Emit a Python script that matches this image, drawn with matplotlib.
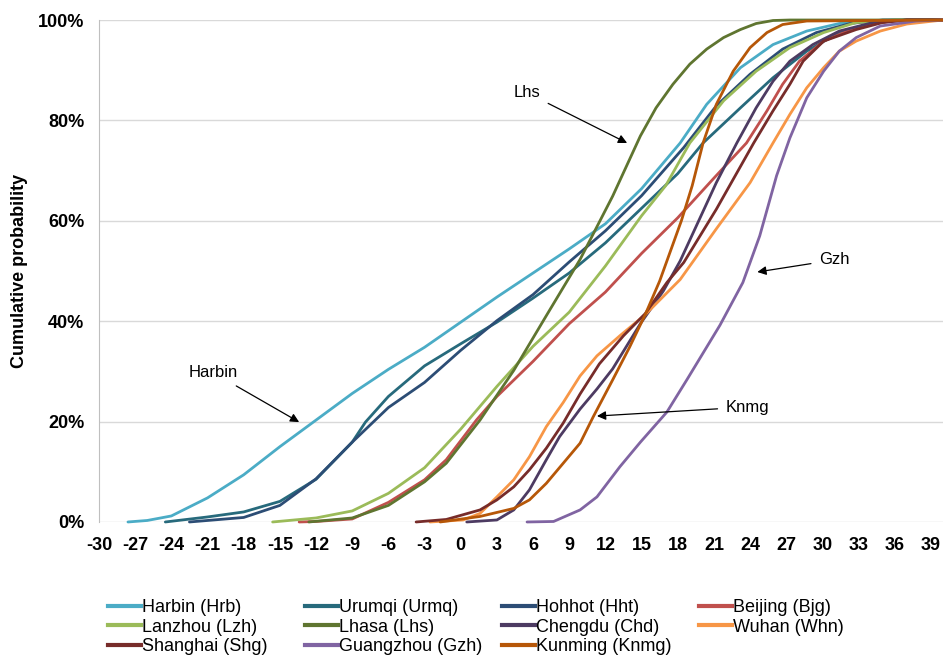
import matplotlib
matplotlib.use("Agg")
import matplotlib.pyplot as plt
from matplotlib.lines import Line2D
from matplotlib.ticker import PercentFormatter

plt.rcParams['font.family'] = ['Liberation Sans', 'DejaVu Sans']
plt.rcParams['axes.unicode_minus'] = False

# cumulative probability (%) of daily temperature (deg C) per city
harbin_t = [-27.6, -26, -24, -21, -18, -15, -12, -9, -6, -3, 0, 3, 6, 9, 12, 15, 18.2, 20.4, 23.2, 25.9, 28.7, 31.4, 34, 36, 40]
harbin_p = [0, 0.3, 1.2, 4.8, 9.4, 15.0, 20.3, 25.6, 30.4, 34.8, 39.8, 44.8, 49.6, 54.4, 59.4, 66.4, 75.5, 83.2, 90.5, 95.1, 97.8, 99.3, 99.9, 100, 100]

urumqi_t = [-24.5, -21, -18, -15, -12, -9, -7.9, -6, -3, 0, 3, 6, 9, 12, 15, 18, 20.1, 23.2, 25.9, 28.7, 31.4, 33.7, 36, 40]
urumqi_p = [0, 1.0, 2.0, 4.1, 8.5, 15.9, 19.9, 25.0, 31.1, 35.5, 39.8, 44.6, 49.6, 55.6, 62.5, 69.4, 75.5, 82.5, 88.5, 93.8, 97.5, 99.1, 99.9, 100]

hohhot_t = [-22.5, -21, -18, -15, -12, -9, -6, -3, 0, 3, 6, 9, 12, 15, 18.5, 21.2, 24, 26.7, 29.5, 32.3, 35, 40]
hohhot_p = [0, 0.3, 0.9, 3.3, 8.6, 15.9, 22.8, 27.8, 34.2, 40.1, 45.3, 51.8, 58.0, 65.0, 74.6, 82.9, 89.2, 94.2, 97.5, 99.3, 100, 100]

beijing_t = [-13.4, -12, -9, -6, -3, -1.2, 1.3, 3, 6, 9, 12, 15, 18, 21, 23.7, 25.4, 26.7, 28.1, 30.1, 32.8, 34.8, 37, 40]
beijing_p = [0, 0.1, 0.6, 3.9, 8.4, 12.4, 20.3, 25.0, 32.0, 39.5, 45.8, 53.5, 60.6, 68.5, 75.5, 81.9, 87.2, 91.8, 95.8, 98.5, 99.5, 100, 100]

lanzhou_t = [-15.6, -12, -9, -6, -3, 0, 3, 6, 9, 12, 15, 17, 19.0, 21.8, 24.5, 27.3, 30.1, 32.8, 36, 40]
lanzhou_p = [0, 0.8, 2.2, 5.7, 10.8, 18.5, 27.0, 35.0, 41.8, 51.0, 61.0, 67.0, 75.5, 83.9, 89.8, 94.5, 97.5, 99.5, 100, 100]

lhasa_t = [-12.6, -9, -6, -3, -1.2, 1.6, 4.4, 7.1, 9.9, 12.6, 14.9, 16.2, 17.6, 19.0, 20.4, 21.8, 23.2, 24.5, 25.9, 27.3, 40]
lhasa_p = [0, 0.8, 3.3, 8.0, 11.7, 20.3, 30.2, 41.1, 52.3, 64.9, 76.9, 82.5, 87.2, 91.2, 94.2, 96.5, 98.1, 99.3, 99.9, 100, 100]

chengdu_t = [0.5, 3, 4.4, 5.7, 7.1, 8.2, 9.9, 11.3, 12.6, 14.9, 16.8, 18.2, 21.2, 22.9, 24.5, 25.9, 27.3, 29.2, 31.4, 34.2, 37, 40]
chengdu_p = [0, 0.4, 2.4, 6.4, 12.4, 17.0, 22.5, 26.5, 30.5, 39.5, 46.0, 52.0, 67.6, 75.5, 82.5, 87.8, 91.8, 95.1, 97.8, 99.5, 100, 100]

wuhan_t = [-2.55, 0.2, 1.6, 3.0, 4.4, 5.7, 7.1, 8.5, 9.9, 11.3, 13.2, 15.3, 18.2, 21.2, 24, 25.9, 27.3, 28.7, 30.1, 31.4, 32.8, 34.8, 37, 40]
wuhan_p = [0, 0.4, 1.7, 5.0, 8.4, 13.0, 19.0, 23.8, 29.1, 33.1, 37.1, 41.3, 48.3, 58.4, 67.6, 75.5, 81.2, 86.5, 90.5, 93.8, 95.8, 97.8, 99.2, 100]

shanghai_t = [-3.7, -1.2, 1.6, 3.0, 4.4, 5.7, 7.1, 8.5, 9.9, 11.5, 13.5, 15.3, 17.1, 18.5, 21.2, 24.3, 25.9, 27.3, 28.4, 30.1, 32.8, 35, 37, 40]
shanghai_p = [0, 0.5, 2.4, 4.4, 7.0, 10.4, 14.7, 19.7, 25.5, 31.5, 37.1, 41.5, 47.7, 51.7, 62.3, 75.5, 81.9, 87.2, 91.8, 95.8, 98.1, 99.5, 100, 100]

guangzhou_t = [5.5, 7.7, 9.9, 11.3, 13.2, 14.9, 17.1, 18.8, 21.5, 23.4, 24.8, 26.2, 27.3, 28.7, 30.1, 31.4, 32.8, 34.8, 37.8, 40]
guangzhou_p = [0, 0.1, 2.4, 5.0, 11.0, 15.9, 21.9, 28.5, 39.2, 47.7, 57.0, 69.0, 76.5, 84.5, 89.8, 93.8, 96.5, 98.8, 99.8, 100]

kunming_t = [-1.7, 1.6, 4.4, 5.7, 7.1, 8.5, 9.9, 11.0, 12.6, 14.0, 15.3, 16.5, 17.4, 18.3, 19.2, 20.1, 21.2, 22.6, 24.0, 25.4, 26.7, 28.7, 40]
kunming_p = [0, 1.1, 2.7, 4.4, 7.7, 11.7, 15.7, 21.0, 28.3, 34.8, 41.3, 48.0, 54.0, 60.0, 67.0, 75.5, 83.2, 89.8, 94.5, 97.5, 99.1, 99.8, 100]

series = [
    ("Harbin (Hrb)", harbin_t, harbin_p, "#4BACC6"),
    ("Urumqi (Urmq)", urumqi_t, urumqi_p, "#276A7C"),
    ("Hohhot (Hht)", hohhot_t, hohhot_p, "#2C4D75"),
    ("Beijing (Bjg)", beijing_t, beijing_p, "#C0504D"),
    ("Lanzhou (Lzh)", lanzhou_t, lanzhou_p, "#9BBB59"),
    ("Lhasa (Lhs)", lhasa_t, lhasa_p, "#5F7530"),
    ("Chengdu (Chd)", chengdu_t, chengdu_p, "#4D3B62"),
    ("Wuhan (Whn)", wuhan_t, wuhan_p, "#F79646"),
    ("Shanghai (Shg)", shanghai_t, shanghai_p, "#772C2A"),
    ("Guangzhou (Gzh)", guangzhou_t, guangzhou_p, "#8064A2"),
    ("Kunming (Knmg)", kunming_t, kunming_p, "#B65708"),
]

fig = plt.figure(figsize=(9.43, 6.56), dpi=100)
ax = fig.add_axes([0.105, 0.2043, 0.895, 0.7652])

handles = {}
for name, t, p, color in series:
    line, = ax.plot(t, p, color=color, lw=2.0, solid_capstyle='round',
                    solid_joinstyle='round', clip_on=False)
    handles[name] = line

ax.set_xlim(-30, 40)
ax.set_ylim(0, 100)
ax.set_xticks(range(-30, 40, 3))
ax.set_yticks(range(0, 101, 20))
ax.yaxis.set_major_formatter(PercentFormatter(decimals=0))
ax.tick_params(length=0, labelsize=13)
ax.tick_params(axis='x', pad=11)
ax.tick_params(axis='y', pad=10.5)
for lab in ax.get_xticklabels() + ax.get_yticklabels():
    lab.set_fontweight('bold')

ax.grid(axis='y', color='#D9D9D9', lw=1)
ax.set_axisbelow(True)
for side in ['top', 'right', 'bottom']:
    ax.spines[side].set_visible(False)
ax.spines['left'].set_color('#BFBFBF')

ax.set_ylabel("Cumulative probability", fontsize=13, fontweight='bold', labelpad=7)

# city call-outs
arrow = dict(arrowstyle='-|>', color='black', lw=0.9, mutation_scale=13, shrinkA=4, shrinkB=0)
ax.annotate("Harbin", xy=(-13.4, 19.9), xytext=(-20.5, 29.7), fontsize=12,
            ha='center', va='center', arrowprops=arrow)
ax.annotate("Lhs", xy=(13.8, 75.5), xytext=(5.5, 85.5), fontsize=12,
            ha='center', va='center', arrowprops=arrow)
ax.annotate("Gzh", xy=(24.6, 49.8), xytext=(31.0, 52.2), fontsize=12,
            ha='center', va='center', arrowprops=arrow)
ax.annotate("Knmg", xy=(11.3, 21.1), xytext=(23.8, 22.9), fontsize=12,
            ha='center', va='center', arrowprops=arrow)

# legend laid out as four fixed columns
columns = [
    ["Harbin (Hrb)", "Lanzhou (Lzh)", "Shanghai (Shg)"],
    ["Urumqi (Urmq)", "Lhasa (Lhs)", "Guangzhou (Gzh)"],
    ["Hohhot (Hht)", "Chengdu (Chd)", "Kunming (Knmg)"],
    ["Beijing (Bjg)", "Wuhan (Whn)"],
]
col_x = [108, 305, 502, 699]
for x0, names in zip(col_x, columns):
    hs = [Line2D([], [], color=handles[n].get_color(), lw=3) for n in names]
    fig.legend(hs, names, loc='upper left', bbox_to_anchor=(x0 / 943, 1 - 599 / 656),
               frameon=False, fontsize=13, handlelength=1.85, handletextpad=0.05,
               labelspacing=0.15, borderpad=0, borderaxespad=0)

fig.savefig("out.png", dpi=100)
